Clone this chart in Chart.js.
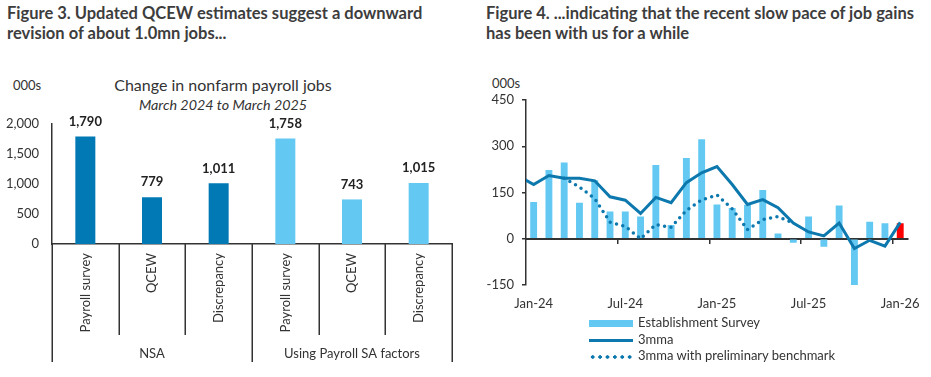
<!DOCTYPE html>
<html>
<head>
<meta charset="utf-8">
<script src="https://cdn.jsdelivr.net/npm/chart.js@4.4.1/dist/chart.umd.min.js"></script>
<style>
  html, body { margin: 0; padding: 0; background: #fff; }
  body { width: 931px; height: 377px; position: relative; overflow: hidden; font-family: Lato, sans-serif; color: #333; }
  .fig-title { position: absolute; top: 3px; font-weight: bold; font-size: 16.5px; line-height: 20px; color: #3d3d3d; white-space: nowrap; }
  .unit { position: absolute; font-size: 13px; line-height: 16px; color: #333; }
  .chart-title { position: absolute; left: 0; width: 446px; text-align: center; color: #333; }
  canvas { position: absolute; }
  #legend { position: absolute; left: 589px; top: 314px; font-size: 13px; color: #333; }
  #legend .row { height: 16.5px; line-height: 16.5px; white-space: nowrap; }
  #legend .mark { display: inline-block; width: 44px; vertical-align: middle; margin-right: 5px; }
</style>
</head>
<body>
<div class="fig-title" style="left:7px">Figure 3. Updated QCEW estimates suggest a downward<br>revision of about 1.0mn jobs...</div>
<div class="fig-title" style="left:486px">Figure 4. ...indicating that the recent slow pace of job gains<br>has been with us for a while</div>

<div class="unit" style="left:13px; top:77px">000s</div>
<div class="chart-title" style="top:75px; font-size:16px; line-height:20px">Change in nonfarm payroll jobs</div>
<div class="chart-title" style="top:96px; font-size:14.3px; line-height:18px; font-style:italic">March 2024 to March 2025</div>
<canvas id="revChart" width="465" height="317" style="left:0; top:60px"></canvas>

<div class="unit" style="left:492px; top:75px">000s</div>
<canvas id="payChart" width="461" height="255" style="left:470px; top:60px"></canvas>
<div id="legend"></div>

<script>
// Figure 3: change in nonfarm payroll jobs, March 2024 to March 2025 (000s)
const revCategories = ['Payroll survey', 'QCEW', 'Discrepancy', 'Payroll survey', 'QCEW', 'Discrepancy'];
const revGroups = ['NSA', 'Using Payroll SA factors'];
const revValues = [1790, 779, 1011, 1758, 743, 1015];
const revTicks = [0, 500, 1000, 1500, 2000];

// Figure 4: monthly payroll gains (000s); Dec-23 only feeds the start of the 3mma line
const months = ['Dec-23', 'Jan-24', 'Feb-24', 'Mar-24', 'Apr-24', 'May-24', 'Jun-24', 'Jul-24', 'Aug-24', 'Sep-24', 'Oct-24', 'Nov-24', 'Dec-24',
                'Jan-25', 'Feb-25', 'Mar-25', 'Apr-25', 'May-25', 'Jun-25', 'Jul-25', 'Aug-25', 'Sep-25', 'Oct-25', 'Nov-25', 'Dec-25', 'Jan-26'];
const establishment = [null, 119, 223, 247, 117, 190, 88, 88, 72, 239, 45, 262, 323,
                       111, 100, 110, 158, 17, -13, 72, -26, 108, -155, 55, 50, 50];
const mma3 = [204, 176, 205, 196, 196, 188, 136, 125, 82, 134, 117, 182, 214,
              234, 176, 111, 127, 101, 51, 22, 9, 51, -32, -5, -24, 53];
const mma3Bench = [null, null, null, 196, 168, 130, 54, 40, 0, 46, 37, 92, 126,
                   142, 97, 30, 62, 72, 51, null, null, null, null, null, null, null];
const payTicks = [-150, 0, 150, 300, 450];
const seriesNames = ['Establishment Survey', '3mma', '3mma with preliminary benchmark'];

const FONT = 'Lato';
const TEXT = '#333';
const DARK = '#0079b4';
const LIGHT = '#63c9f2';
const LINE = '#0c78ad';

// draws value labels, category separators and group names for figure 3
const revExtras = {
    id: 'revExtras',
    afterDatasetsDraw(chart) {
        const ctx = chart.ctx;
        const meta = chart.getDatasetMeta(0);
        ctx.save();
        ctx.font = 'bold 13px ' + FONT;
        ctx.fillStyle = '#222';
        ctx.textAlign = 'center';
        ctx.textBaseline = 'middle';
        meta.data.forEach((bar, i) => {
            ctx.fillText(revValues[i].toLocaleString('en-US'), bar.x, bar.y - 15);
        });
        ctx.restore();
    },
    afterDraw(chart) {
        const ctx = chart.ctx;
        const x = chart.scales.x;
        const n = revCategories.length;
        const per = n / revGroups.length;
        const w = (x.right - x.left) / n;
        ctx.save();
        ctx.strokeStyle = TEXT;
        ctx.lineWidth = 1.5;
        for (let i = 0; i <= n; i++) {
            const px = Math.round(x.left + i * w) + 0.25;
            ctx.beginPath();
            ctx.moveTo(px, x.top);
            ctx.lineTo(px, x.top + (i % per === 0 ? 118 : 91));
            ctx.stroke();
        }
        ctx.font = '13px ' + FONT;
        ctx.fillStyle = TEXT;
        ctx.textAlign = 'center';
        ctx.textBaseline = 'middle';
        revGroups.forEach((g, j) => {
            ctx.fillText(g, x.left + (j + 0.5) * per * w, x.top + 110);
        });
        ctx.restore();
    }
};

new Chart(document.getElementById('revChart'), {
    type: 'bar',
    data: {
        labels: revCategories,
        datasets: [{
            data: revValues,
            backgroundColor: revValues.map((v, i) => i < revCategories.length / 2 ? DARK : LIGHT),
            barPercentage: 0.3,
            categoryPercentage: 1
        }]
    },
    options: {
        responsive: false,
        animation: false,
        layout: { padding: { top: 64, right: 13, left: 0, bottom: 0 } },
        plugins: { legend: { display: false }, tooltip: { enabled: false } },
        scales: {
            x: {
                grid: { display: false, drawTicks: false },
                border: { color: TEXT, width: 1.5 },
                ticks: { autoSkip: false, minRotation: 90, maxRotation: 90, padding: 9, color: TEXT, font: { family: FONT, size: 13 } },
                afterFit: s => { s.height = 133; }
            },
            y: {
                min: revTicks[0],
                max: revTicks[revTicks.length - 1],
                afterBuildTicks: s => { s.ticks = revTicks.map(v => ({ value: v })); },
                grid: { display: false, drawTicks: false },
                border: { color: TEXT, width: 1.5 },
                ticks: { padding: 13, color: TEXT, font: { family: FONT, size: 13 }, callback: v => v.toLocaleString('en-US') },
                afterFit: s => { s.width = 52; }
            }
        }
    },
    plugins: [revExtras]
});

const lastIdx = months.length - 1;

new Chart(document.getElementById('payChart'), {
    type: 'bar',
    data: {
        labels: months,
        datasets: [
            {
                type: 'line',
                label: seriesNames[1],
                data: mma3,
                borderColor: LINE,
                borderWidth: 3,
                pointRadius: 0,
                tension: 0,
                clip: 0,
                order: 1
            },
            {
                type: 'line',
                label: seriesNames[2],
                data: mma3Bench,
                borderColor: LINE,
                borderWidth: 3.5,
                borderDash: [0, 6.5],
                borderCapStyle: 'round',
                pointRadius: 0,
                tension: 0,
                clip: 0,
                order: 2
            },
            {
                label: seriesNames[0],
                data: establishment,
                backgroundColor: establishment.map((v, i) => i === lastIdx ? '#ff0000' : LIGHT),
                barPercentage: 0.45,
                categoryPercentage: 1,
                order: 3
            }
        ]
    },
    options: {
        responsive: false,
        animation: false,
        layout: { padding: { top: 40, right: 17, left: 0, bottom: 0 } },
        plugins: { legend: { display: false }, tooltip: { enabled: false } },
        scales: {
            x: {
                min: months[1],
                offset: true,
                grid: { display: false, drawTicks: false },
                border: { display: false },
                ticks: {
                    autoSkip: false, maxRotation: 0, padding: 11, color: TEXT, font: { family: FONT, size: 13 },
                    callback: function (val) {
                        const l = this.getLabelForValue(val);
                        return (l.startsWith('Jan') || l.startsWith('Jul')) ? l : '';
                    }
                },
                afterFit: s => { s.height = 30; }
            },
            x2: {
                type: 'category',
                axis: 'x',
                position: { y: 0 },
                min: months[1],
                offset: true,
                grid: {
                    offset: true,
                    drawOnChartArea: false,
                    tickLength: 4,
                    lineWidth: 1.5,
                    tickColor: c => (c.index > 0 && c.index % 6 === 0) ? TEXT : 'rgba(0,0,0,0)'
                },
                border: { color: TEXT, width: 2 },
                ticks: { display: false }
            },
            y: {
                min: payTicks[0],
                max: payTicks[payTicks.length - 1],
                afterBuildTicks: s => { s.ticks = payTicks.map(v => ({ value: v })); },
                grid: { drawOnChartArea: false, tickLength: 4, tickColor: TEXT, lineWidth: 1.5 },
                border: { color: TEXT, width: 1.5 },
                ticks: { padding: 8, color: TEXT, font: { family: FONT, size: 13 } },
                afterFit: s => { s.width = 56; }
            }
        }
    }
});

// legend below figure 4
const legendEl = document.getElementById('legend');
const markStyles = [
    'height:7px; background:' + LIGHT,
    'height:3px; background:' + LINE,
    'height:4px; background: radial-gradient(circle, ' + LINE + ' 1.5px, rgba(0,0,0,0) 2px) 0 0 / 7.4px 4px repeat-x'
];
seriesNames.forEach((name, i) => {
    const row = document.createElement('div');
    row.className = 'row';
    row.innerHTML = '<span class="mark" style="' + markStyles[i] + '"></span>' + name;
    legendEl.appendChild(row);
});
</script>
</body>
</html>
